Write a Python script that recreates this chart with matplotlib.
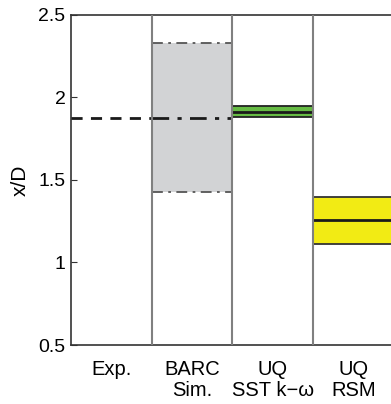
import matplotlib.pyplot as plt

# data
categories = ["Exp.", "BARC\nSim.", "UQ\nSST k\u2212\u03c9", "UQ\nRSM"]
exp_value = 1.875
barc_range = [1.425, 1.875, 2.327]   # low, mean, high
sst_range = [1.881, 1.914, 1.947]
rsm_range = [1.110, 1.255, 1.398]
yticks = [0.5, 1, 1.5, 2, 2.5]

plt.rcParams['font.family'] = ['Liberation Sans', 'DejaVu Sans']

fig = plt.figure(figsize=(3.91, 4.04), dpi=100)
ax = fig.add_axes([0.1816, 0.146, 0.826, 0.817])

# band per column: x from i to i+1
def band(i, low, mid, high, face, edge_style, edge_color, mid_style):
    ax.fill_between([i, i + 1], low, high, color=face, lw=0, zorder=1)
    ax.hlines([low, high], i, i + 1, colors=edge_color, linestyles=edge_style, lw=1.3, zorder=2)
    ax.hlines(mid, i, i + 1, colors='#1a1a1a', linestyles=mid_style, lw=2.0, zorder=3)

ax.hlines(exp_value, 0, 1, colors='#1a1a1a', linestyles=(0, (4, 3)), lw=2.0, zorder=3)
band(1, *barc_range, '#d2d3d5', (0, (6, 3, 1.5, 3)), '#555555', (0, (6, 3, 1.5, 3)))
band(2, *sst_range, '#66bb44', 'solid', '#222222', 'solid')
band(3, *rsm_range, '#f2eb14', 'solid', '#333333', 'solid')

# column dividers
for x in [1, 2, 3]:
    ax.axvline(x, color='#808080', lw=1.5, zorder=4)

ax.set_xlim(0, 4)
ax.set_ylim(0.5, 2.5)
ax.set_yticks(yticks)
ax.set_yticklabels(['0.5', '1', '1.5', '2', '2.5'], fontsize=14)
ax.set_xticks([0.5, 1.5, 2.5, 3.5])
ax.set_xticklabels(categories, fontsize=14.5, linespacing=1.12)
ax.tick_params(axis='x', length=0, pad=11)
ax.tick_params(axis='y', direction='in', length=4, pad=4, color='#333333')
ax.set_ylabel('x/D', fontsize=15, labelpad=6)
for s in ['left', 'bottom', 'top']:
    ax.spines[s].set_color('#333333')
    ax.spines[s].set_linewidth(1.2)
ax.spines['right'].set_visible(False)

fig.savefig('out.png', dpi=100)
